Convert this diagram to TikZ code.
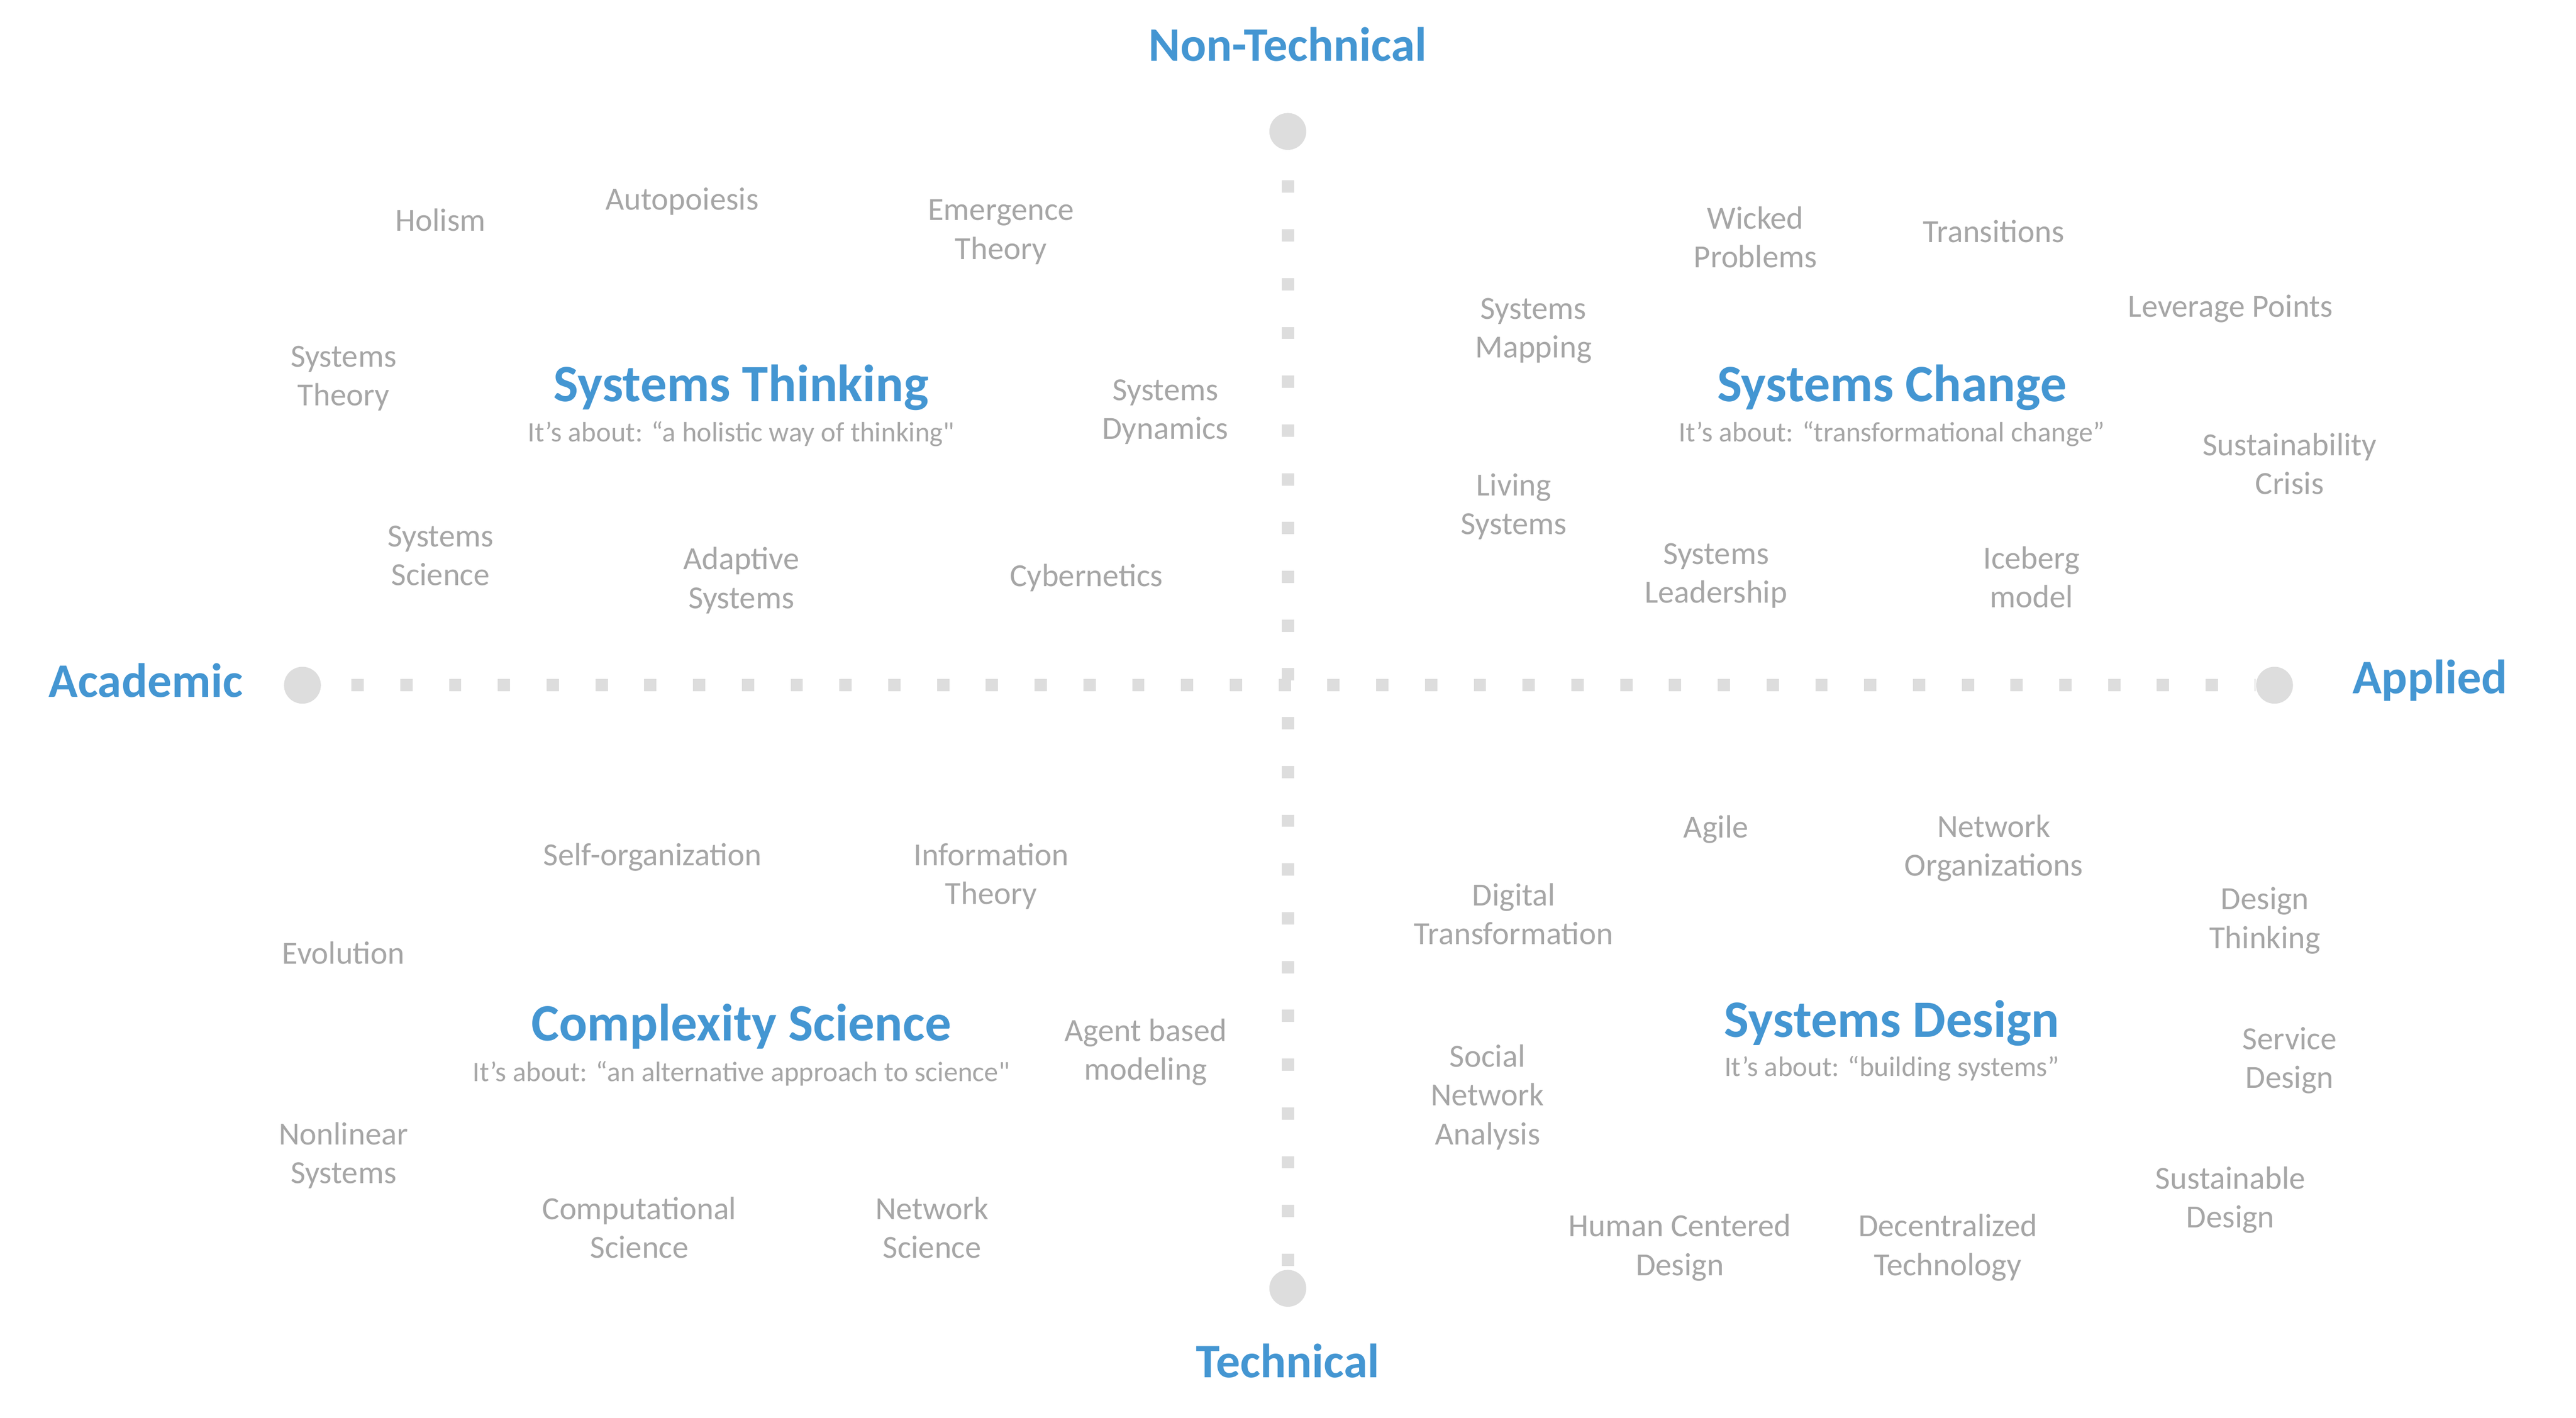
\documentclass[tikz,border=0pt]{standalone}
\usepackage{fontspec}
\setmainfont{Carlito}
\usepackage{tikz}

\definecolor{poleblue}{HTML}{4496D2}
\definecolor{termgray}{HTML}{A6A6A6}
\definecolor{dotgray}{HTML}{DDDDDD}

\newcommand{\plainquote}{\XeTeXglyph\XeTeXcharglyph34\relax}

\begin{document}
\begin{tikzpicture}[x=0.989pt,y=-0.989pt,
	term/.style={text=termgray, align=center, inner sep=0, yshift=-1.7pt, font=\fontsize{19.4}{23.3}\selectfont},
	field/.style={text=poleblue, inner sep=0, yshift=-1.7pt, font=\bfseries\fontsize{31.6}{36}\selectfont},
	about/.style={text=termgray, inner sep=0, yshift=-1.2pt, font=\fontsize{16.9}{20}\selectfont},
	pole/.style={text=poleblue, inner sep=0, font=\bfseries\fontsize{29}{34}\selectfont},
	dot/.style={circle, fill=dotgray, minimum size=22.2pt, inner sep=0},
	axisline/.style={draw=dotgray, line width=7.4pt, dash pattern=on 7.4pt off 21.96pt, dash phase=11.16pt}]

\useasboundingbox (0,0) rectangle (1567.24,862.73);

\node[dot] (nontechdot) at (783.5,  80) {};
\node[dot] (techdot)    at (783.5, 784) {};
\node[dot] (academdot)  at (184  , 417) {};
\node[dot] (applieddot) at (1383.8,417) {};

\draw[axisline] (nontechdot) -- (techdot);
\draw[axisline] (academdot) -- (applieddot);

\node[pole] (nontech) at (783.5,  27) {Non-Technical};
\node[pole] (tech)    at (783.5, 828) {Technical};
\node[pole] (academ)  at (88.7 , 414) {Academic};
\node[pole] (applied) at (1478.3,414) {Applied};

\node[field] (systhink)   at (451, 234) {Systems Thinking};
\node[about] (systhinkab) at (451, 263) {It’s about: “a holistic way of thinking\plainquote};

\node[term] (holism)      at (268, 132)   {Holism};
\node[term] (autopoiesis) at (415, 121)   {Autopoiesis};
\node[term] (emergence)   at (609, 139.5) {Emergence\\Theory};
\node[term] (systheory)   at (209, 228.5) {Systems\\Theory};
\node[term] (sysdyn)      at (709, 249)   {Systems\\Dynamics};
\node[term] (sysscience)  at (268, 336.5) {Systems\\Science};
\node[term] (adaptive)    at (451, 351.5) {Adaptive\\Systems};
\node[term] (cyber)       at (661, 350)   {Cybernetics};

\node[field] (syschange)   at (1151, 234) {Systems Change};
\node[about] (syschangeab) at (1151, 263) {It’s about: “transformational change”};

\node[term] (wicked)      at (1068, 142.5) {Wicked\\Problems};
\node[term] (transitions) at (1213, 139)   {Transitions};
\node[term] (sysmap)      at (933 , 199.5) {Systems\\Mapping};
\node[term] (leverage)    at (1357, 186)   {Leverage Points};
\node[term] (sustcrisis)  at (1393, 280.5) {Sustainability\\Crisis};
\node[term] (living)      at (921 , 306.5) {Living\\Systems};
\node[term] (sysleader)   at (1044, 348.5) {Systems\\Leadership};
\node[term] (iceberg)     at (1236, 349.5) {Iceberg\\model};

\node[field] (complexity)   at (451, 623) {Complexity Science};
\node[about] (complexityab) at (451, 652) {It’s about: “an alternative approach to science\plainquote};

\node[term] (selforg)       at (397, 520)   {Self-organization};
\node[term] (infotheory)    at (603, 531.5) {Information\\Theory};
\node[term] (evolution)     at (209, 578)   {Evolution};
\node[term] (agent)         at (697, 638.5) {Agent based\\modeling};
\node[term] (nonlinear)     at (209, 701.5) {Nonlinear\\Systems};
\node[term] (computational) at (389, 745.5) {Computational\\Science};
\node[term] (netscience)    at (567, 745.5) {Network\\Science};

\node[field] (sysdesign)   at (1151, 621) {Systems Design};
\node[about] (sysdesignab) at (1151, 649) {It’s about: “building systems”};

\node[term] (agile)       at (1044, 503)   {Agile};
\node[term] (netorg)      at (1213, 514.5) {Network\\Organizations};
\node[term] (digital)     at (921 , 554.5) {Digital\\Transformation};
\node[term] (designthink) at (1378, 558.5) {Design\\Thinking};
\node[term] (service)     at (1393, 643.5) {Service\\Design};
\node[term] (sna)         at (905 , 666)   {Social\\Network\\Analysis};
\node[term] (sustdesign)  at (1357, 728.5) {Sustainable\\Design};
\node[term] (hcd)         at (1022, 757.5) {Human Centered\\Design};
\node[term] (decentral)   at (1185, 757.5) {Decentralized\\Technology};

\end{tikzpicture}
\end{document}
